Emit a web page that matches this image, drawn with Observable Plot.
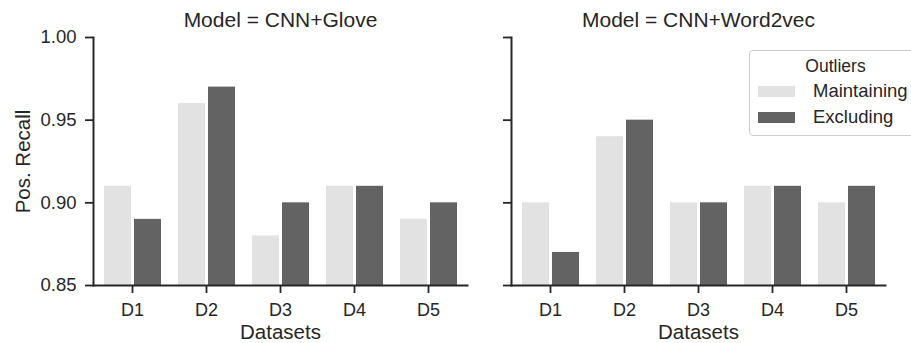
<!DOCTYPE html>
<html>
<head>
<meta charset="utf-8">
<script src="https://cdn.jsdelivr.net/npm/d3@7"></script>
<script src="https://cdn.jsdelivr.net/npm/@observablehq/plot@0.6"></script>
<style>
  html, body { margin: 0; padding: 0; background: #fff; overflow: hidden; }
  #wrap { position: relative; width: 911px; height: 343px; font-family: "Liberation Sans", Arial, sans-serif; color: #262626; }
  #legend { position: absolute; left: 749px; top: 50px; width: 175px; height: 86px; border: 1px solid #cccccc; border-radius: 4px; background: rgba(255,255,255,0.85); box-sizing: border-box; }
  #legend .ttl { position: absolute; left: 0; width: 171px; top: 5px; text-align: center; font-size: 17.5px; line-height: 20px; }
  #legend .row { position: absolute; left: 8px; height: 20px; display: flex; align-items: center; font-size: 18.5px; }
  #legend .sw { width: 37px; height: 11px; margin-right: 18px; }
</style>
</head>
<body>
<div id="wrap"></div>
<script>
const datasets = ["D1", "D2", "D3", "D4", "D5"];
const models = ["CNN+Glove", "CNN+Word2vec"];
const outliers = ["Maintaining", "Excluding"];
const gloveMaintaining = [0.91, 0.96, 0.88, 0.91, 0.89];
const gloveExcluding   = [0.89, 0.97, 0.90, 0.91, 0.90];
const w2vMaintaining   = [0.90, 0.94, 0.90, 0.91, 0.90];
const w2vExcluding     = [0.87, 0.95, 0.90, 0.91, 0.91];
const yTicks = [0.85, 0.90, 0.95, 1.00];
const colors = ["#e2e2e2", "#636363"];
const xLabel = "Datasets";
const yLabel = "Pos. Recall";

const series = [
  [models[0], outliers[0], gloveMaintaining],
  [models[0], outliers[1], gloveExcluding],
  [models[1], outliers[0], w2vMaintaining],
  [models[1], outliers[1], w2vExcluding]
];
const rows = series.flatMap(([model, outlier, vals]) =>
  vals.map((value, i) => ({model, outlier, dataset: datasets[i], value})));
const base = yTicks[0];
const ink = "#262626";
const font = "\"Liberation Sans\", Arial, sans-serif";

const chart = Plot.plot({
  width: 911,
  height: 343,
  marginLeft: 92,
  marginRight: 25,
  marginTop: 37,
  marginBottom: 58,
  style: {fontFamily: font, color: ink, background: "transparent", overflow: "visible"},
  fx: {domain: models, paddingInner: 0.105, paddingOuter: 0, axis: null},
  x: {domain: datasets, paddingInner: 0, paddingOuter: 0},
  y: {domain: [yTicks[0], yTicks[yTicks.length - 1]]},
  color: {domain: outliers, range: colors},
  marks: [
    Plot.barY(rows.filter(d => d.outlier === outliers[0]), {
      fx: "model", x: "dataset", y1: () => base, y2: "value", fill: "outlier",
      insetLeft: 9, insetRight: 38
    }),
    Plot.barY(rows.filter(d => d.outlier === outliers[1]), {
      fx: "model", x: "dataset", y1: () => base, y2: "value", fill: "outlier",
      insetLeft: 39, insetRight: 8
    }),
    Plot.frame({anchor: "left", stroke: ink, strokeWidth: 2}),
    Plot.frame({anchor: "bottom", stroke: ink, strokeWidth: 2}),
    Plot.axisY({
      ticks: yTicks, tickFormat: d3.format(".2f"), tickSize: 8, tickPadding: 9,
      fontSize: 18.5, strokeWidth: 1.8, color: ink, label: null
    }),
    Plot.axisY({ticks: yTicks, tickFormat: () => "", tickSize: 8, strokeWidth: 1.8, color: ink, facetAnchor: "right", label: null}),
    Plot.axisX({
      tickSize: 8, tickPadding: 10, fontSize: 18, strokeWidth: 1.8, color: ink, label: null
    }),
    Plot.text(models, {
      fx: d => d, text: d => `Model = ${d}`, frameAnchor: "top", lineAnchor: "middle", dy: -17,
      fontSize: 21, fill: ink
    }),
    Plot.text(models, {
      fx: d => d, text: () => xLabel, frameAnchor: "bottom", lineAnchor: "middle", dy: 47,
      fontSize: 20.5, fill: ink
    }),
    Plot.text([models[0]], {
      fx: d => d, text: () => yLabel, frameAnchor: "left", lineAnchor: "middle", textAnchor: "middle",
      rotate: -90, dx: -70, fontSize: 20.5, fill: ink
    })
  ]
});
document.getElementById("wrap").appendChild(chart);

const legend = document.createElement("div");
legend.id = "legend";
const ttl = document.createElement("div");
ttl.className = "ttl";
ttl.textContent = "Outliers";
legend.appendChild(ttl);
outliers.forEach((o, i) => {
  const row = document.createElement("div");
  row.className = "row";
  row.style.top = (30 + i * 26) + "px";
  const sw = document.createElement("span");
  sw.className = "sw";
  sw.style.background = colors[i];
  const tx = document.createElement("span");
  tx.textContent = o;
  row.appendChild(sw);
  row.appendChild(tx);
  legend.appendChild(row);
});
document.getElementById("wrap").appendChild(legend);
</script>
</body>
</html>
